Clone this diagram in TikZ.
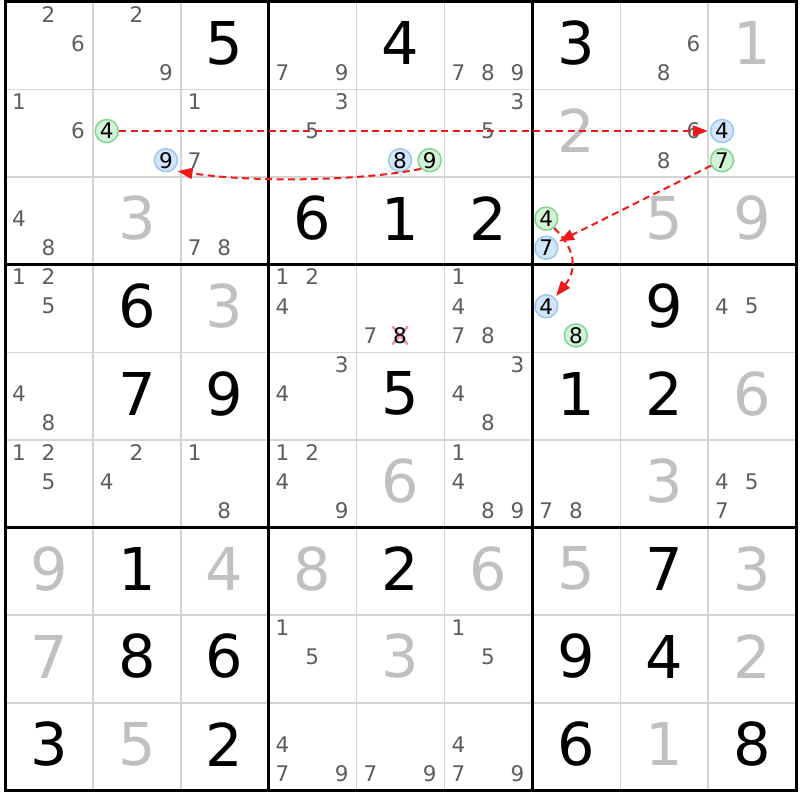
\documentclass[tikz,border=0pt]{standalone}
\usepackage{fontspec}
\setmainfont{DejaVu Sans}
\usetikzlibrary{arrows.meta}
\usetikzlibrary{calc}
\definecolor{solvedgray}{HTML}{C0C0C0}
\definecolor{candgray}{HTML}{5E5E5E}
\definecolor{cellgray}{HTML}{D4D4D4}
\definecolor{greenfill}{HTML}{D4F2D6}
\definecolor{greenline}{HTML}{7FD68E}
\definecolor{bluefill}{HTML}{D2E5FA}
\definecolor{blueline}{HTML}{9DC7F2}
\definecolor{linkred}{HTML}{F01818}
\definecolor{crosspink}{HTML}{F290A4}
\newcommand\ppbb{path picture bounding box}
\tikzset{
  given/.style={inner sep=0pt, font=\fontsize{59}{59}\selectfont, text=black},
  solved/.style={given, text=solvedgray},
  cand/.style={inner sep=0pt, font=\fontsize{21.5}{21.5}\selectfont, text=candgray},
  greencand/.style={cand, text=black, circle, draw=greenline, fill=greenfill,
    line width=1.5pt, minimum size=23pt},
  bluecand/.style={cand, text=black, circle, draw=blueline, fill=bluefill,
    line width=1.5pt, minimum size=23pt},
  crossed/.style={cand, text=black, inner sep=1.2pt, path picture={
    \draw[crosspink, line width=2.4pt] (\ppbb.north west) -- (\ppbb.south east)
      (\ppbb.south west) -- (\ppbb.north east);
  }},
}
% candidate d of cell (r,c) sits in a 3x3 sub grid
\newcommand\cand[4][cand]{%
  \pgfmathsetmacro\candx{(mod(#4-1,3)-1)*29.6-0.5}%
  \pgfmathsetmacro\candy{(floor((#4-1)/3)-1)*29.2-2.4}%
  \node[#1] (k#2#3#4) at ($(c#2#3)+(\candx,\candy)$) {#4};%
}
\begin{document}
\begin{tikzpicture}[x=1pt, y=-1pt,
	cellline/.style={cellgray, line width=1.5pt},
	boxline/.style={black, line width=3pt},
	link/.style={linkred, line width=2pt, dash pattern=on 7pt off 4.5pt,
	  -{Triangle[length=15pt,width=11pt]}, shorten >=2pt}]
	\fill[white] (0,0) rectangle (800,800);
	\useasboundingbox (0,0) rectangle (800,800);
	
	% cell centres
	\foreach \row in {1,...,9}
	\foreach \col in {1,...,9}
	\coordinate (c\row\col) at ({5+(\col-0.5)*87.9},{2+(\row-0.5)*87.6});
	
	% grid lines
	\foreach \i in {1,...,8} {
	  \draw[cellline] ({5+\i*87.9},2) -- ({5+\i*87.9},790.4);
	  \draw[cellline] (5,{2+\i*87.6}) -- (796.1,{2+\i*87.6});
	}
	\foreach \i in {3,6} {
	  \draw[boxline] ({5+\i*87.9},2) -- ({5+\i*87.9},790.4);
	  \draw[boxline] (5,{2+\i*87.6}) -- (796.1,{2+\i*87.6});
	}
	\draw[boxline] (5,2) rectangle (796.1,790.4);
	
	% givens and solved cells
	\foreach \row/\col/\val in {1/3/5, 1/5/4, 1/7/3, 3/4/6, 3/5/1, 3/6/2, 4/2/6, 4/8/9,
	  5/2/7, 5/3/9, 5/5/5, 5/7/1, 5/8/2, 7/2/1, 7/5/2, 7/8/7,
	  8/2/8, 8/3/6, 8/7/9, 8/8/4, 9/1/3, 9/3/2, 9/7/6, 9/9/8}
	\node[given] (g\row\col) at ($(c\row\col)+(0,-2.5)$) {\val};
	\foreach \row/\col/\val in {1/9/1, 2/7/2, 3/2/3, 3/8/5, 3/9/9, 4/3/3, 5/9/6, 6/5/6, 6/8/3,
	  7/1/9, 7/3/4, 7/4/8, 7/6/6, 7/7/5, 7/9/3, 8/1/7, 8/5/3, 8/9/2, 9/2/5, 9/8/1}
	\node[solved] (g\row\col) at ($(c\row\col)+(0,-2.5)$) {\val};
	
	% candidates
	\foreach \row/\col/\ds in {1/1/{2,6}, 1/2/{2,9}, 1/4/{7,9}, 1/6/{7,8,9}, 1/8/{6,8},
	  2/1/{1,6}, 2/3/{1,7}, 2/4/{3,5}, 2/6/{3,5}, 2/8/{6,8}, 3/1/{4,8}, 3/3/{7,8},
	  4/1/{1,2,5}, 4/4/{1,2,4}, 4/5/{7}, 4/6/{1,4,7,8}, 4/9/{4,5},
	  5/1/{4,8}, 5/4/{3,4}, 5/6/{3,4,8},
	  6/1/{1,2,5}, 6/2/{2,4}, 6/3/{1,8}, 6/4/{1,2,4,9}, 6/6/{1,4,8,9}, 6/7/{7,8}, 6/9/{4,5,7},
	  8/4/{1,5}, 8/6/{1,5}, 9/4/{4,7,9}, 9/5/{7,9}, 9/6/{4,7,9}}
	\foreach \dig in \ds {\cand{\row}{\col}{\dig}}
	
	% coloured candidates
	\foreach \row/\col/\dig in {2/2/4, 2/5/9, 2/9/7, 3/7/4, 4/7/8}
	\cand[greencand]{\row}{\col}{\dig};
	\foreach \row/\col/\dig in {2/2/9, 2/5/8, 2/9/4, 3/7/7, 4/7/4}
	\cand[bluecand]{\row}{\col}{\dig};
	\cand[crossed]{4}{5}{8}
	
	% chain links
	\draw[link] (k224) -- (k294);
	\draw[link] (k259.225) .. controls +(-60,12) and +(80,12) .. ([shift={(1,2)}]k229.-45);
	\draw[link] (k297) -- (k377);
	\draw[link] (k374.-50) .. controls +(25,25) and +(20,-25) .. (k474.45);
\end{tikzpicture}
\end{document}
